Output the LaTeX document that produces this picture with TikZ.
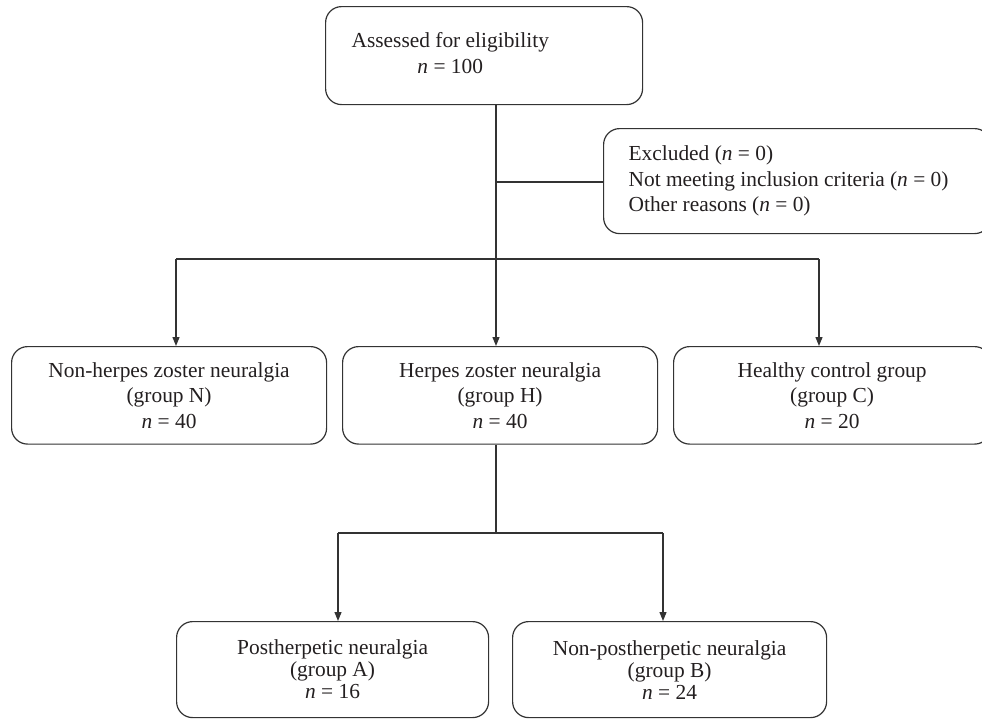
\documentclass[tikz,border=0pt]{standalone}
\usepackage{fontspec}
\setmainfont{Liberation Serif}
\usetikzlibrary{arrows.meta}
\definecolor{linecol}{HTML}{333333}
\definecolor{textcol}{HTML}{231F20}
\begin{document}
\begin{tikzpicture}[x=1pt,y=-1pt,
  box/.style={draw=linecol, line width=1.2pt, rounded corners=16pt, anchor=north west,
    inner sep=0pt, align=center, text=textcol, font=\fontsize{21.4}{25.5}\selectfont},
  lowbox/.style={box, font=\fontsize{21.4}{22}\selectfont},
  ln/.style={draw=linecol, line width=1.2pt},
  arr/.style={ln, -{Triangle[length=9pt,width=7pt]}}]
\useasboundingbox (0,0) rectangle (982,718);
\clip (0,0) rectangle (982,718);

% boxes
\node[box, minimum height=98pt, inner xsep=26pt, text width=265pt, align=flush left] (top) at (325,6)
  {\begin{tabular}{@{}c@{}}Assessed for eligibility\\ \textit{n} = 100\end{tabular}};
\node[box, minimum height=105pt, inner xsep=25pt, text width=337pt, align=flush left] (excl) at (603,128)
  {Excluded (\textit{n} = 0)\\ Not meeting inclusion criteria (\textit{n} = 0)\\ Other reasons (\textit{n} = 0)};
\node[box, minimum width=315pt, minimum height=97.5pt] (N) at (11,346)
  {Non-herpes zoster neuralgia\\ (group N)\\ \textit{n} = 40};
\node[box, minimum width=315pt, minimum height=97.5pt] (H) at (342,346)
  {Herpes zoster neuralgia\\ (group H)\\ \textit{n} = 40};
\node[box, minimum width=317pt, minimum height=97.5pt] (C) at (673,346)
  {Healthy control group\\ (group C)\\ \textit{n} = 20};
\node[lowbox, minimum width=312pt, minimum height=96pt] (A) at (176,621)
  {Postherpetic neuralgia\\ (group A)\\ \textit{n} = 16};
\node[lowbox, minimum width=314pt, minimum height=96pt] (B) at (512,621)
  {Non-postherpetic neuralgia\\ (group B)\\ \textit{n} = 24};

% junction points
\coordinate (jx) at (496,182);
\coordinate (jl) at (176,259);
\coordinate (jr) at (819,259);
\coordinate (km) at (496,533);
\coordinate (kl) at (338,533);
\coordinate (kr) at (663,533);

% connectors
\draw[arr] (top.south -| jx) -- (jx |- H.north);
\draw[ln] (jx) -- (jx -| excl.west);
\draw[ln] (jl) -- (jr);
\draw[arr] (jl) -- (jl |- N.north);
\draw[arr] (jr) -- (jr |- C.north);
\draw[ln] (H.south -| km) -- (km);
\draw[ln] (kl) -- (kr);
\draw[arr] (kl) -- (kl |- A.north);
\draw[arr] (kr) -- (kr |- B.north);
\end{tikzpicture}
\end{document}
